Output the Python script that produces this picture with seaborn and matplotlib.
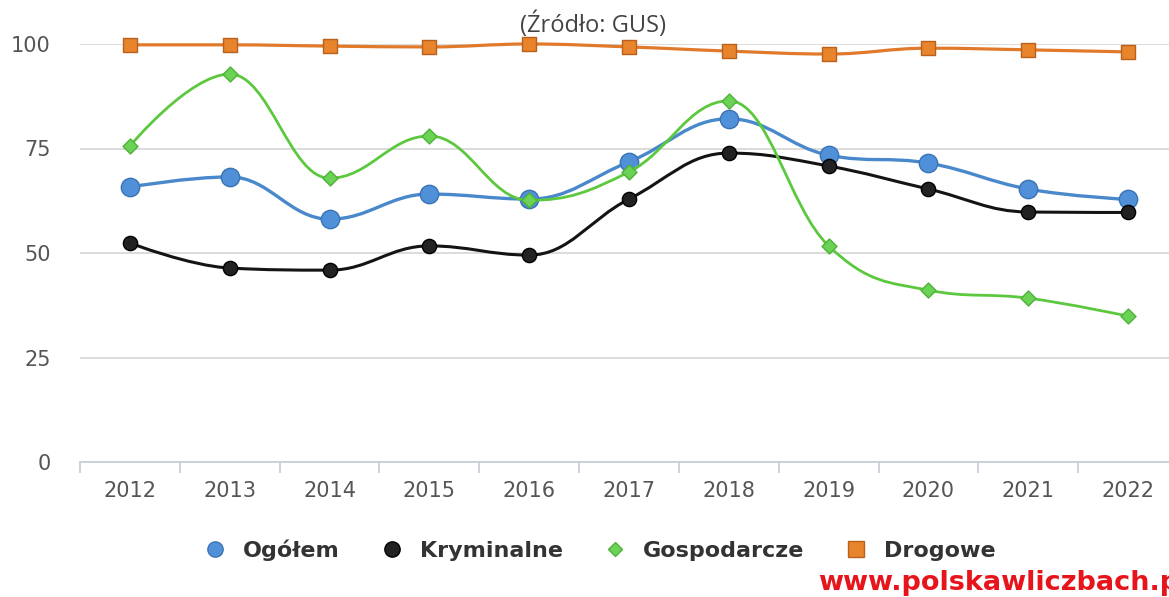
import matplotlib
matplotlib.use('Agg')
import matplotlib.pyplot as plt
from matplotlib.path import Path
from matplotlib.patches import PathPatch
from matplotlib.lines import Line2D
import numpy as np
import pandas as pd
import seaborn as sns

# dane (Źródło: GUS) - wskaźniki wykrywalności, %
lata = ['2012', '2013', '2014', '2015', '2016', '2017', '2018', '2019', '2020', '2021', '2022']
ogolem = [65.8, 68.2, 58.1, 64.1, 62.9, 71.8, 82.1, 73.4, 71.5, 65.3, 62.8]
kryminalne = [52.4, 46.4, 45.9, 51.7, 49.5, 62.9, 73.9, 70.8, 65.3, 59.8, 59.7]
gospodarcze = [75.6, 92.8, 67.9, 78.0, 62.6, 69.4, 86.4, 51.7, 41.1, 39.2, 34.9]
drogowe = [99.8, 99.8, 99.5, 99.3, 100.0, 99.3, 98.3, 97.6, 99.0, 98.6, 98.1]

serie = ['Ogółem', 'Kryminalne', 'Gospodarcze', 'Drogowe']
wartosci = [ogolem, kryminalne, gospodarcze, drogowe]

kolory_linii = {'Ogółem': '#4a88cc', 'Kryminalne': '#141414',
                'Gospodarcze': '#5cc83e', 'Drogowe': '#e07a2a'}
kolory_znacz = {'Ogółem': '#4f90d8', 'Kryminalne': '#222222',
                'Gospodarcze': '#6ad255', 'Drogowe': '#e8842c'}
krawedzie = {'Ogółem': '#3a74b4', 'Kryminalne': '#000000',
             'Gospodarcze': '#4fb23a', 'Drogowe': '#b9601c'}
znaczniki = {'Ogółem': 'o', 'Kryminalne': 'o', 'Gospodarcze': 'D', 'Drogowe': 's'}
rozmiary = {'Ogółem': 175, 'Kryminalne': 105, 'Gospodarcze': 58, 'Drogowe': 115}
grubosci = {'Ogółem': 2.4, 'Kryminalne': 2.2, 'Gospodarcze': 2.0, 'Drogowe': 2.3}

x = np.arange(len(lata))
df = pd.DataFrame({
    'x': np.tile(x, len(serie)),
    'wartosc': np.concatenate(wartosci),
    'seria': np.repeat(serie, len(lata)),
})


def spline(xs, ys, smoothing=1.5):
    # krzywa w stylu "spline" (punkty kontrolne Beziera)
    n = len(xs)
    lc = [(xs[i], ys[i]) for i in range(n)]
    rc = [(xs[i], ys[i]) for i in range(n)]
    d = smoothing + 1
    for i in range(1, n - 1):
        px, py = xs[i], ys[i]
        lx, ly = xs[i - 1], ys[i - 1]
        nx, ny = xs[i + 1], ys[i + 1]
        lcx, lcy = (smoothing * px + lx) / d, (smoothing * py + ly) / d
        rcx, rcy = (smoothing * px + nx) / d, (smoothing * py + ny) / d
        corr = ((rcy - lcy) * (rcx - px)) / (rcx - lcx) + py - rcy
        lcy += corr
        rcy += corr
        if lcy > ly and lcy > py:
            lcy = max(ly, py); rcy = 2 * py - lcy
        elif lcy < ly and lcy < py:
            lcy = min(ly, py); rcy = 2 * py - lcy
        if rcy > ny and rcy > py:
            rcy = max(ny, py); lcy = 2 * py - rcy
        elif rcy < ny and rcy < py:
            rcy = min(ny, py); lcy = 2 * py - rcy
        lc[i] = (lcx, lcy)
        rc[i] = (rcx, rcy)
    verts = [(xs[0], ys[0])]
    codes = [Path.MOVETO]
    for i in range(1, n):
        verts += [rc[i - 1], lc[i], (xs[i], ys[i])]
        codes += [Path.CURVE4] * 3
    return Path(verts, codes)


sns.set_theme(style='white')
plt.rcParams['font.family'] = ['DejaVu Sans']

fig = plt.figure(figsize=(11.69, 5.97), dpi=100)
ax = fig.add_axes([80 / 1169, 135 / 597, 1098 / 1169, 418 / 597])

for k, s in enumerate(serie):
    sub = df[df['seria'] == s]
    ax.add_patch(PathPatch(spline(sub['x'].to_numpy(float), sub['wartosc'].to_numpy(float)),
                           fill=False, edgecolor=kolory_linii[s], lw=grubosci[s],
                           zorder=3 + 2 * k, clip_on=False))
    sns.scatterplot(data=sub, x='x', y='wartosc', marker=znaczniki[s], s=rozmiary[s],
                    color=kolory_znacz[s], edgecolor=krawedzie[s], linewidth=1.0,
                    zorder=4 + 2 * k, clip_on=False, legend=False, ax=ax)

ax.set_xlim(-0.5, len(lata) - 0.5)
ax.set_ylim(0, 100)
ax.set_xlabel('')
ax.set_ylabel('')

ax.set_yticks([0, 25, 50, 75, 100])
ax.set_yticklabels(['0', '25', '50', '75', '100'])
ax.yaxis.grid(True, color='#d9d9d9', lw=1.3)
ax.set_axisbelow(True)
ax.tick_params(axis='y', length=0, pad=21, labelsize=15, labelcolor='#555555')

ax.set_xticks(x)
ax.set_xticklabels(lata)
ax.set_xticks(np.arange(-0.5, len(lata), 1.0), minor=True)
ax.tick_params(axis='x', which='major', length=0, pad=14, labelsize=15, labelcolor='#555555')
ax.tick_params(axis='x', which='minor', direction='out', length=8, width=1.3,
               color='#c9ced8', bottom=True)

for side in ['top', 'right', 'left']:
    ax.spines[side].set_visible(False)
ax.spines['bottom'].set_color('#c9ced8')
ax.spines['bottom'].set_linewidth(1.3)

fig.text(593 / 1169, 1 - 25 / 597, '(Źródło: GUS)', ha='center', va='center',
         fontsize=17, color='#444444', family='Open Sans')

uchwyty = [Line2D([], [], linestyle='none', marker=znaczniki[s], markersize=11 if s != 'Gospodarcze' else 7,
                  markerfacecolor=kolory_znacz[s], markeredgecolor=krawedzie[s]) for s in serie]
fig.legend(uchwyty, serie, loc='center', bbox_to_anchor=(600 / 1169, 1 - 550 / 597), ncol=4,
           frameon=False, handlelength=1.0, handletextpad=0.75, columnspacing=1.85,
           prop={'weight': 'bold', 'size': 16}, labelcolor='#333333')

# adres strony - jak na oryginale, ucięty przy prawej krawędzi
fig.text(818 / 1169, 1 - 583 / 597, 'www.polskawliczbach.pl', ha='left', va='center',
         fontsize=19.5, fontweight='bold', color='#e8141c')

fig.savefig('out.png', dpi=100)
